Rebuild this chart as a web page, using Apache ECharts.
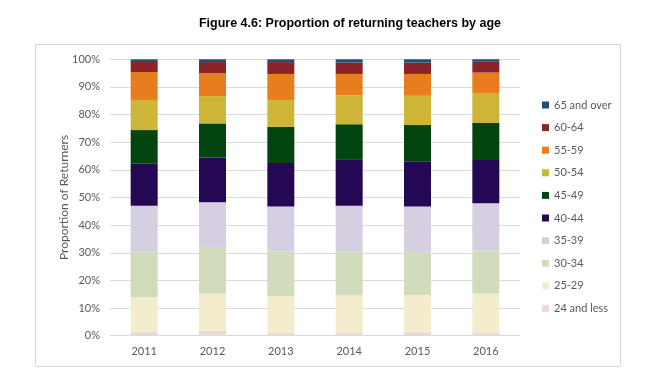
<!DOCTYPE html>
<html><head><meta charset="utf-8">
<script src="https://cdn.jsdelivr.net/npm/echarts@6/dist/echarts.min.js"></script>
<style>html,body{margin:0;padding:0;background:#fff}#c{width:663px;height:390px}</style>
</head><body><div id="c"></div>
<script>
var years = ['2011','2012','2013','2014','2015','2016'];
var seriesNames = ['24 and less','25-29','30-34','35-39','40-44','45-49','50-54','55-59','60-64','65 and over'];
var s24less = [1.3, 1.7, 1.1, 1.1, 1.3, 1.1];
var s25_29  = [12.6, 13.6, 13.3, 13.5, 13.4, 14.2];
var s30_34  = [16.5, 16.5, 16.1, 15.8, 15.5, 15.5];
var s35_39  = [16.6, 16.5, 16.2, 16.6, 16.5, 17.1];
var s40_44  = [15.2, 16.1, 15.8, 16.6, 16.4, 15.7];
var s45_49  = [12.2, 12.4, 13.1, 12.9, 13.1, 13.4];
var s50_54  = [10.9, 9.9, 9.7, 10.5, 10.6, 10.8];
var s55_59  = [10.1, 8.3, 9.4, 7.7, 7.9, 7.4];
var s60_64  = [4.0, 4.0, 4.3, 4.1, 4.1, 3.9];
var s65over = [0.6, 1.0, 1.0, 1.2, 1.2, 0.9];
var yTicks = ['0%','10%','20%','30%','40%','50%','60%','70%','80%','90%','100%'];
var colors = ['#EBD9DC','#F3EDCD','#D0DCBC','#D5CFE1','#250854','#024511','#CDB538','#E87D1E','#8B2328','#1F4E79'];
var dataSets = [s24less,s25_29,s30_34,s35_39,s40_44,s45_49,s50_54,s55_59,s60_64,s65over];

var chart = echarts.init(document.getElementById('c'));
var series = seriesNames.map(function(n,i){
  return {name:n,type:'bar',stack:'all',barWidth:27,data:dataSets[i],
    itemStyle:{color:colors[i]},emphasis:{disabled:true}};
});
chart.setOption({
  animation:false,
  title:{text:'Figure 4.6: Proportion of returning teachers by age',left:345,textAlign:'center',top:12,
    textStyle:{fontFamily:'Liberation Sans',fontWeight:'bold',fontSize:12.5,color:'#000'}},
  graphic:[{type:'rect',shape:{x:35.5,y:44.5,width:585,height:322},style:{fill:'none',stroke:'#D9D9D9',lineWidth:1},z:-1}],
  grid:{left:110,right:143,top:59.3,bottom:54.3},
  legend:{orient:'vertical',left:537,top:93,itemWidth:7,itemHeight:7,itemGap:8.6,icon:'rect',
    data:seriesNames.slice().reverse(),
    textStyle:{fontFamily:'Lato',fontSize:11,color:'#595959',lineHeight:14}},
  xAxis:{type:'category',data:years,
    axisLine:{lineStyle:{color:'#D9D9D9'}},axisTick:{show:false},
    axisLabel:{fontFamily:'Lato',fontSize:11,color:'#595959',margin:10}},
  yAxis:{type:'value',min:0,max:100,interval:10,
    name:'Proportion of Returners',nameLocation:'middle',nameGap:40,nameMoveOverlap:false,
    nameTextStyle:{fontFamily:'Lato',fontSize:12,color:'#595959'},
    axisLabel:{formatter:function(v){return yTicks[Math.round(v/10)];},fontFamily:'Lato',fontSize:11,color:'#595959',margin:10},
    splitLine:{lineStyle:{color:'#D9D9D9'}},axisLine:{show:false},axisTick:{show:false}},
  series:series
});
</script></body></html>
